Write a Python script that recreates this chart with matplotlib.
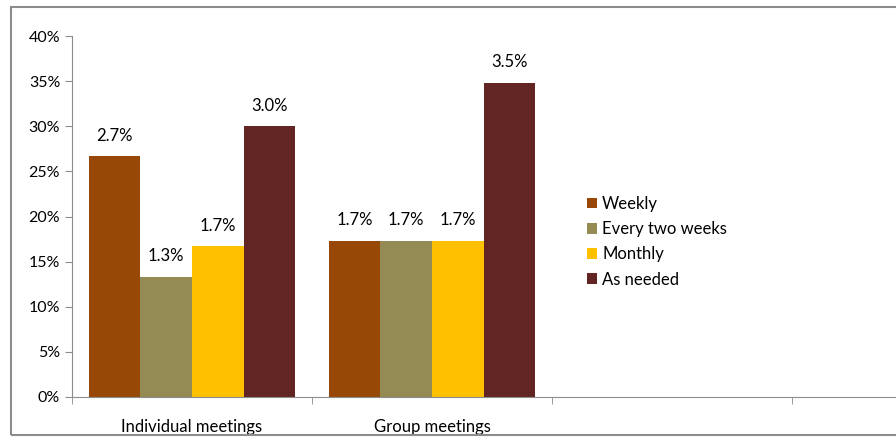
import numpy as np
import matplotlib.pyplot as plt
from matplotlib.patches import Rectangle
from matplotlib.ticker import PercentFormatter

plt.rcParams['font.family'] = ['Lato', 'DejaVu Sans']

categories = ['Individual meetings', 'Group meetings']
series = ['Weekly', 'Every two weeks', 'Monthly', 'As needed']
# share of respondents (%) per meeting type
weekly = [26.7, 17.3]
every_two_weeks = [13.3, 17.3]
monthly = [16.7, 17.3]
as_needed = [30.0, 34.8]
colors = ['#974706', '#948A54', '#FFC000', '#632523']

values = [weekly, every_two_weeks, monthly, as_needed]

fig = plt.figure(figsize=(8.96, 4.42), dpi=100)
ax = fig.add_axes([72/896, 45/442, 1 - 72/896, 361/442])

# outer chart border
fig.patches.append(Rectangle((11/896, 7/442), 1.0, 428/442, transform=fig.transFigure,
                             fill=False, edgecolor='#8c8c8c', linewidth=1.5))

x = np.arange(len(categories))
w = 0.215
for i, (name, vals, c) in enumerate(zip(series, values, colors)):
    pos = x + (i - 1.5) * w
    bars = ax.bar(pos, vals, width=w, color=c, label=name)
    for b, v in zip(bars, vals):
        # labels carry value/10, as printed on the chart
        ax.annotate(f'{v / 10:.1f}%', (b.get_x() + b.get_width() / 2, v),
                    xytext=(0, 9), textcoords='offset points',
                    ha='center', va='bottom', fontsize=12)

ax.set_ylim(0, 40)
ax.set_xlim(-0.5, -0.5 + 824/240)
ax.set_yticks(np.arange(0, 41, 5))
ax.yaxis.set_major_formatter(PercentFormatter(decimals=0))
ax.set_xticks(x)
ax.set_xticklabels(categories)
ax.set_xticks(np.arange(-0.5, 3, 1), minor=True)
ax.tick_params(axis='x', which='major', length=0, labelsize=12, pad=16)
ax.tick_params(axis='x', which='minor', length=5, color='#8c8c8c')
ax.tick_params(axis='y', length=5, color='#8c8c8c', labelsize=11.5)

for s in ['top', 'right']:
    ax.spines[s].set_visible(False)
for s in ['left', 'bottom']:
    ax.spines[s].set_color('#8c8c8c')

ax.legend(loc='center left', bbox_to_anchor=(500/824, 0.43), frameon=False,
          fontsize=12, handlelength=0.6, handleheight=0.6, handletextpad=0.3,
          labelspacing=0.55)

fig.savefig('out.png', dpi=100)
